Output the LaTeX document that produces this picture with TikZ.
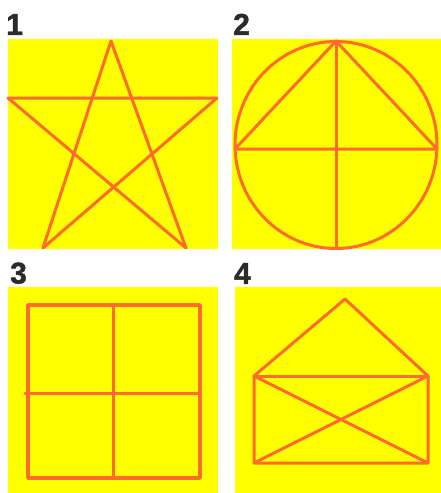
\documentclass[tikz,border=0pt]{standalone}
\usepackage{fontspec}
\setmainfont{Liberation Sans}
\newfontfamily\numfont[FakeBold=1.5]{Liberation Sans Bold}
\definecolor{bgyellow}{HTML}{FFFF00}
\definecolor{lineorange}{HTML}{FF6A2E}
\definecolor{labelgray}{HTML}{2B2B2B}
\begin{document}
\begin{tikzpicture}[x=1pt,y=-1pt,
  panel/.style={fill=bgyellow,draw=none},
  figline/.style={draw=lineorange,line width=3pt,line join=round,line cap=round},
  numlabel/.style={text=labelgray,font=\fontsize{30}{30}\selectfont\numfont,inner sep=0pt,anchor=south west}]
\useasboundingbox (0,0) rectangle (441,493);
% panels
\fill[panel] (8,39) rectangle (218,249);
\fill[panel] (232,39) rectangle (441,249);
\fill[panel] (8,287) rectangle (218,493);
\fill[panel] (235,287) rectangle (441,493);
% labels
\node[numlabel] (l1) at (6,35) {1};
\node[numlabel] (l2) at (233,35) {2};
\node[numlabel] (l3) at (10,284) {3};
\node[numlabel] (l4) at (234,284) {4};
% 1: star
\coordinate (st) at (111,41);
\coordinate (sl) at (8,98);
\coordinate (sr) at (217,98);
\coordinate (sbl) at (43,248);
\coordinate (sbr) at (186,248);
\draw[figline] (st) -- (sbl) -- (sr) -- (sl) -- (sbr) -- cycle;
% 2: circle with triangle and cross
\coordinate (cc) at (336,145);
\coordinate (ct) at (336,41);
\coordinate (cb) at (336,248);
\coordinate (cl) at (235,149);
\coordinate (cr) at (437,149);
\draw[figline] (cc) ellipse [x radius=101, y radius=103.5];
\draw[figline] (cl) -- (ct) -- (cr) -- cycle;
\draw[figline] (ct) -- (cb);
% 3: square with cross
\coordinate (q1) at (28,305);
\coordinate (q2) at (200,478);
\coordinate (qt) at (113,305);
\coordinate (qb) at (113,478);
\coordinate (ql) at (25,393);
\coordinate (qr) at (200,393);
\draw[figline,line width=3.6pt] (q1) rectangle (q2);
\draw[figline] (qt) -- (qb);
\draw[figline] (ql) -- (qr);
% 4: envelope
\coordinate (ea) at (345,299);
\coordinate (etl) at (254,376);
\coordinate (etr) at (428,376);
\coordinate (ebl) at (254,463);
\coordinate (ebr) at (428,463);
\draw[figline] (etl) -- (ea) -- (etr) -- (ebr) -- (ebl) -- cycle;
\draw[figline] (etl) -- (etr);
\draw[figline] (etl) -- (ebr);
\draw[figline] (etr) -- (ebl);
\end{tikzpicture}
\end{document}
